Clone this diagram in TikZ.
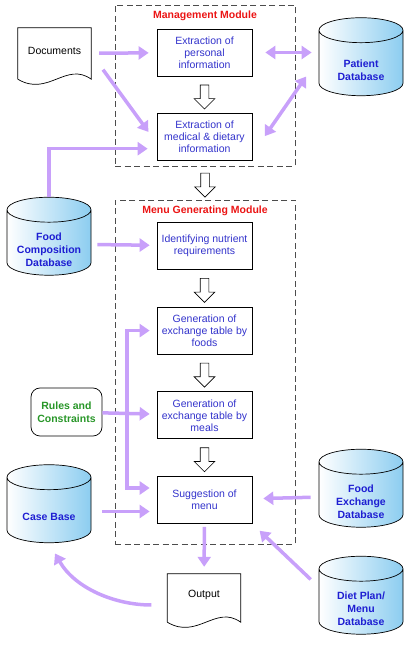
\documentclass[tikz,border=0pt]{standalone}
\usepackage{fontspec}
\setmainfont{Liberation Sans}
\usetikzlibrary{positioning,arrows.meta,calc,shapes.geometric,shapes.arrows}
\definecolor{flowc}{RGB}{200,160,250}
\definecolor{boxblue}{RGB}{51,51,204}
\definecolor{dbblue}{RGB}{30,30,210}
\definecolor{dbfill}{RGB}{140,205,240}
\definecolor{modred}{RGB}{235,20,20}
\definecolor{rulegreen}{RGB}{40,150,40}
\tikzset{
  bx/.style={draw, fill=white, line width=0.7pt, minimum width=95pt, minimum height=47pt, align=center, text=boxblue, font=\fontsize{10.5}{12}\selectfont, inner sep=2pt},
  dbtxt/.style={align=center, text=dbblue, font=\fontsize{10.5}{13}\selectfont\bfseries, inner sep=0pt},
  db/.style={cylinder, shape border rotate=90, aspect=0.43, draw, line width=0.7pt, minimum width=84pt, minimum height=78pt, text width=56pt, inner sep=1pt, left color=white, right color=dbfill, label={[dbtxt, yshift=-5.5pt]center:#1}},
  doc/.style={minimum width=73pt, minimum height=51pt, inner sep=0pt, font=\fontsize{10.5}{12}\selectfont},
  rulebox/.style={draw, rounded corners=9pt, line width=0.7pt, minimum width=71pt, minimum height=48pt, align=center, text=rulegreen, font=\fontsize{10.5}{13}\selectfont\bfseries},
  mod/.style={draw=black!70, dash pattern=on 6pt off 3.5pt, line width=0.8pt, minimum width=180pt},
  ttl/.style={text=modred, font=\fontsize{10.5}{12}\selectfont\bfseries, inner sep=1pt},
  hol/.style={single arrow, draw, fill=white, line width=0.6pt, shape border rotate=270, minimum height=24pt, inner sep=4pt, single arrow head extend=6pt},
  fl/.style={-{Triangle[length=10pt,width=13pt]}, draw=flowc, line width=3.5pt, shorten <=8pt, shorten >=8pt},
  fl2/.style={fl, {Triangle[length=10pt,width=13pt]}-{Triangle[length=10pt,width=13pt]}},
}
\begin{document}
\begin{tikzpicture}[x=1pt, y=1pt]
\useasboundingbox (0,0) rectangle (412,653);
% module frames
\node[mod, minimum height=161pt] (mgmt) at (205,567.5) {};
\node[mod, minimum height=344pt] (menu) at (205,281) {};
\node[ttl, below=5pt of mgmt.north] (mgmttl) {Management Module};
\node[ttl, below=5pt of menu.north] (menutl) {Menu Generating Module};
% process boxes
\node[bx] (ext1) at (204.5,600.5) {Extraction of\\personal\\information};
\node[bx, below=37pt of ext1] (ext2) {Extraction of\\medical \& dietary\\information};
\node[bx, below=61pt of ext2] (ident) {Identifying nutrient\\requirements};
\node[bx, below=37pt of ident] (genfood) {Generation of\\exchange table by\\foods};
\node[bx, below=37pt of genfood] (genmeal) {Generation of\\exchange table by\\meals};
\node[bx, below=37pt of genmeal] (sugg) {Suggestion of\\menu};
% hollow arrows
\node[hol] (h1) at ($(ext1.south)!0.5!(ext2.north)$) {};
\node[hol] (h2) at ($(mgmt.south)!0.5!(menu.north)$) {};
\node[hol] (h3) at ($(ident.south)!0.5!(genfood.north)$) {};
\node[hol] (h4) at ($(genfood.south)!0.5!(genmeal.north)$) {};
\node[hol] (h5) at ($(genmeal.south)!0.5!(sugg.north)$) {};
% databases
\node[db={Patient\\Database}] (patient) at (361,588.5) {};
\node[db={Food\\Composition\\Database}] (foodcomp) at (49,409) {};
\node[db={Case Base}] (casebase) at (49,141.5) {};
\node[db={Food\\Exchange\\Database}] (foodex) at (361,157) {};
\node[db={Diet Plan/\\Menu\\Database}] (dietdb) at (361,50) {};
\node[rulebox] (rules) at (66.5,241) {Rules and\\Constraints};
% documents
\node[doc] (docs) at (54.5,599.5) {};
\draw[line width=0.7pt, fill=white] (docs.south west) -- (docs.north west) -- (docs.north east) -- (docs.south east)
  .. controls +(-25pt,18pt) and +(30pt,-18pt) .. (docs.south west);
\node[font=\fontsize{10.5}{12}\selectfont] (docstxt) at ([yshift=3pt]docs) {Documents};
\node[doc, minimum height=48pt] (output) at (204,55) {};
\draw[line width=0.7pt, fill=white] (output.south west) -- (output.north west) -- (output.north east) -- (output.south east)
  .. controls +(-25pt,18pt) and +(30pt,-18pt) .. (output.south west);
\node[font=\fontsize{10.5}{12}\selectfont] (outtxt) at ([yshift=3pt]output) {Output};
% flows
\draw[fl] (docs) -- (ext1);
\draw[fl, shorten <=20pt, shorten >=14pt] (docs.east) -- ([yshift=-6pt]ext2.west);
\draw[fl, shorten <=0pt, shorten >=9pt] (foodcomp.north) |- ([yshift=-11.5pt]ext2.west);
\draw[fl2, shorten <=13pt, shorten >=7pt] (ext1.east) -- (ext1.east -| patient.west);
\draw[fl2, shorten <=22pt, shorten >=22pt] ([yshift=-17pt]ext2.east) -- ([yshift=6pt]patient.west);
\draw[fl, shorten <=6pt, shorten >=7pt] (foodcomp) -- (ident);
\draw[fl, shorten <=0pt, shorten >=7pt] (rules) -- (genmeal);
\coordinate (split) at ($(rules.east)!0.45!(genmeal.west)$);
\draw[fl, shorten <=0pt, shorten >=7pt] (split) |- (genfood.west);
\draw[fl, shorten <=0pt, shorten >=7pt] (split) |- ([yshift=12pt]sugg.west);
\draw[fl, shorten <=11pt, shorten >=7pt] (casebase.east) -- (casebase.east -| sugg.west);
\draw[fl, shorten <=8pt, shorten >=11pt] (foodex) -- (sugg);
\draw[fl, shorten <=11pt, shorten >=10pt] ([yshift=16pt]dietdb.west) -- (sugg.south east);
\draw[fl, shorten <=3pt, shorten >=7pt] (sugg) -- (output);
\draw[fl, shorten <=16pt, shorten >=12pt] ([yshift=-7pt]output.west) to[out=180, in=-60] (casebase.south);
\end{tikzpicture}
\end{document}
